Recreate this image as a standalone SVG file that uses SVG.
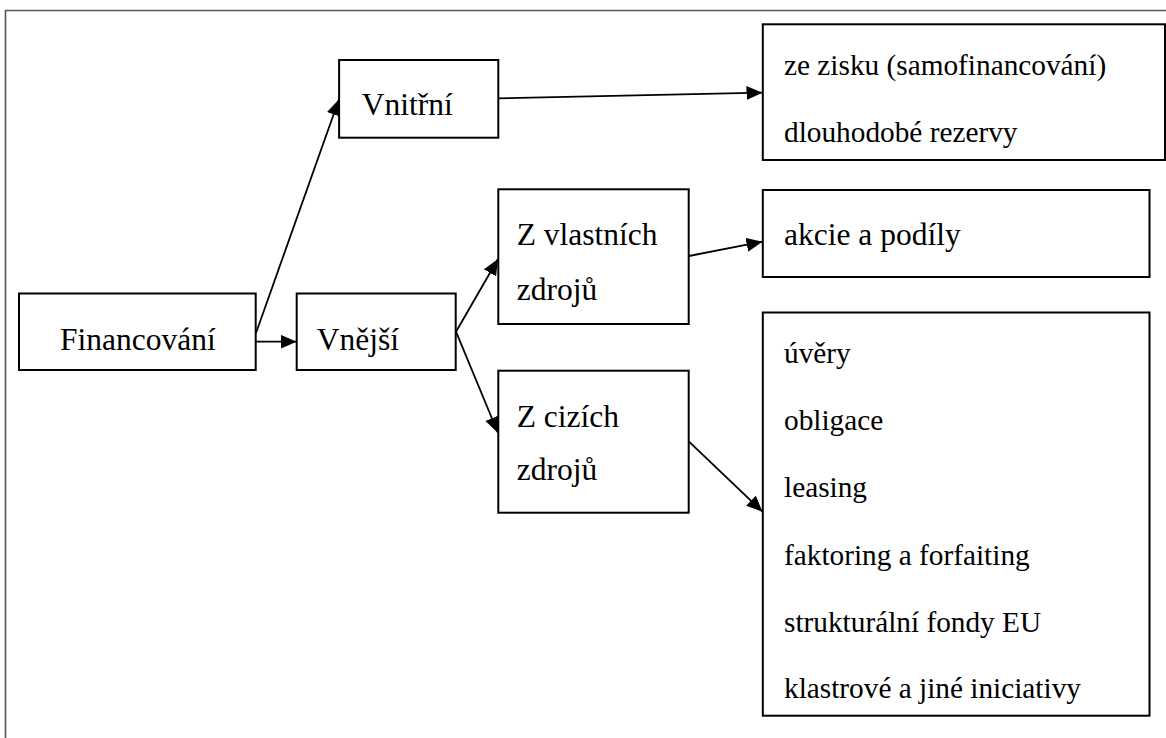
<svg xmlns="http://www.w3.org/2000/svg" width="1166" height="738" viewBox="0 0 1166 738">
<defs>
<style>
.box{fill:#fff;stroke:#000;stroke-width:2}
.lbl{font-size:31.5px;fill:#000}
.itm{font-size:29.3px;fill:#000}
.con{fill:none;stroke:#000;stroke-width:1.8}
</style>
<marker id="arr" markerUnits="userSpaceOnUse" markerWidth="18" markerHeight="16" refX="16" refY="7" orient="auto">
<path d="M0,0 L16,7 L0,14 z" fill="#000"/>
</marker>
</defs>
<rect width="1166" height="738" fill="#fff"/>
<path d="M5.5,738 V10.5 H1166" fill="none" stroke="#555" stroke-width="1.6"/>
<g id="connectors">
<line class="con" x1="256" y1="333" x2="339" y2="99.3" marker-end="url(#arr)"/>
<line class="con" x1="256" y1="341.7" x2="296.5" y2="341.7" marker-end="url(#arr)"/>
<line class="con" x1="456" y1="331.7" x2="498" y2="259" marker-end="url(#arr)"/>
<line class="con" x1="456" y1="331.7" x2="498" y2="433" marker-end="url(#arr)"/>
<line class="con" x1="498.5" y1="98.3" x2="762.5" y2="92.7" marker-end="url(#arr)"/>
<line class="con" x1="689" y1="256" x2="762.5" y2="241.7" marker-end="url(#arr)"/>
<line class="con" x1="689" y1="441.7" x2="762.5" y2="511.7" marker-end="url(#arr)"/>
</g>
<g font-family="'Liberation Serif', Tinos, 'DejaVu Serif', serif">
<g id="financovani">
<rect class="box" x="19" y="293.5" width="236.7" height="76.5"/>
<text class="lbl" x="60" y="350">Financování</text>
</g>
<g id="vnejsi">
<rect class="box" x="296.7" y="293.5" width="159" height="76.5"/>
<text class="lbl" x="316.7" y="350">Vnější</text>
</g>
<g id="vnitrni">
<rect class="box" x="339.1" y="60" width="159.2" height="77.7"/>
<text class="lbl" x="361.7" y="115">Vnitřní</text>
</g>
<g id="z-vlastnich">
<rect class="box" x="498.3" y="189.3" width="190.4" height="134.7"/>
<text class="lbl" x="516.7" y="245">Z vlastních</text>
<text class="lbl" x="516.7" y="300">zdrojů</text>
</g>
<g id="z-cizich">
<rect class="box" x="498.3" y="370.7" width="190.4" height="142"/>
<text class="lbl" x="516.7" y="426.7">Z cizích</text>
<text class="lbl" x="516.7" y="480">zdrojů</text>
</g>
<g id="vnitrni-zdroje">
<rect class="box" x="762.8" y="24.3" width="402.2" height="135.7"/>
<text class="itm" x="784" y="75">ze zisku (samofinancování)</text>
<text class="itm" x="784" y="141.7">dlouhodobé rezervy</text>
</g>
<g id="akcie">
<rect class="box" x="762.8" y="190" width="386.7" height="87"/>
<text class="lbl" x="784" y="245">akcie a podíly</text>
</g>
<g id="cizi-zdroje">
<rect class="box" x="762.8" y="312.5" width="386.7" height="403.2"/>
<text class="itm" x="784" y="363.3">úvěry</text>
<text class="itm" x="784" y="430">obligace</text>
<text class="itm" x="784" y="496.7">leasing</text>
<text class="itm" x="784" y="565">faktoring a forfaiting</text>
<text class="itm" x="784" y="631.7">strukturální fondy EU</text>
<text class="itm" x="784" y="698.3">klastrové a jiné iniciativy</text>
</g>
</g>
</svg>
